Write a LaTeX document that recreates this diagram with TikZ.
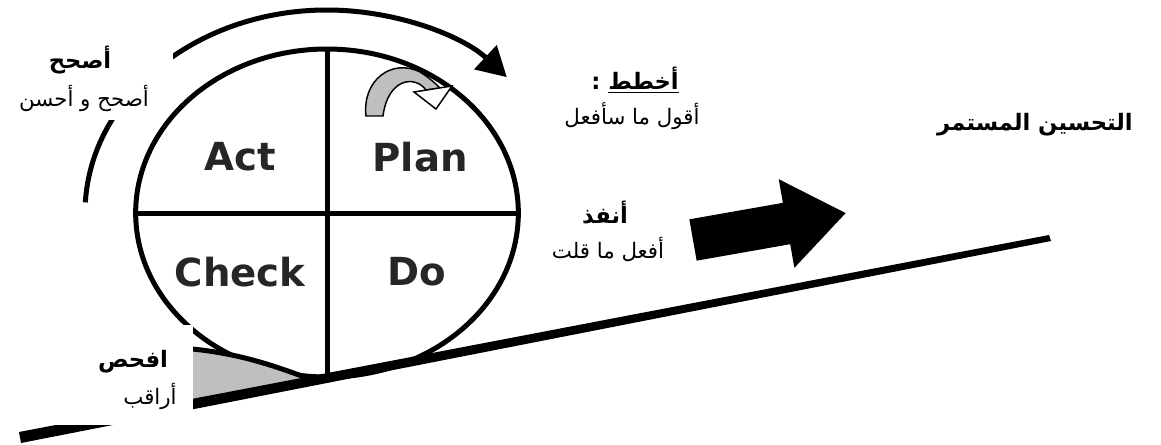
\documentclass[tikz,border=0pt]{standalone}
\usepackage{fontspec}
\setmainfont{DejaVu Sans}
\newfontfamily\arabicfont[Script=Arabic]{DejaVu Sans}
\TeXXeTstate=1
\usetikzlibrary{arrows.meta,shapes.geometric}

\begin{document}
\begin{tikzpicture}[x=0.75pt,y=-0.75pt,ring/.style={draw,ellipse,line width=3.75pt,inner sep=0pt,minimum width=287pt,minimum height=246pt},divider/.style={line width=3.75pt},rolling/.style={line width=3.75pt,-{Triangle[length=22pt,width=24pt]}},phase/.style={font=\fontsize{29}{32}\selectfont\bfseries,text=black!85},stage/.style={font=\arabicfont\fontsize{17}{19}\selectfont\bfseries,inner sep=0pt},hint/.style={font=\arabicfont\fontsize{16}{18}\selectfont,inner sep=0pt},cover/.style={fill=white},block/.style={fill=black},chock/.style={fill=gray!50,draw=black,line width=1.1pt}]
\fill[white] (0,0) rectangle (1161,444); \useasboundingbox (0,0) rectangle (1161,444);
\coordinate (hub) at (327,213);
\draw[rolling] (hub) ++(183:242 and 203) arc[start angle=183,end angle=318,x radius=242,y radius=203];
\fill[cover] (0,0) rectangle (173,120);
\node[ring] (pdca) at (hub) {};
\draw[divider] (pdca.north)--(pdca.south); \draw[divider] (pdca.west)--(pdca.east);
\node[phase] (act) at (240,157) {Act}; \node[phase] (plan) at (420,157) {Plan};
\node[phase] (check) at (240,272) {Check}; \node[phase] (do) at (417,272) {Do};
\filldraw[chock] (366,116) .. controls (362,80) and (392,58) .. (420,72) .. controls (428,77) and (434,82) .. (440,88) -- (426,90) .. controls (415,75) and (388,78) .. (383,116) -- cycle;
\filldraw[chock,fill=white] (414,92) -- (452,86) -- (436,109) -- cycle;
\fill[gray!50] (180,348) .. controls (240,352) and (280,368) .. (318,382) -- (180,410) -- cycle;
\draw[divider] (180,348) .. controls (240,352) and (280,368) .. (318,382);
\fill (19,432) -- (1049,235) -- (1051,241) -- (21,443) -- cycle;
\fill[cover] (0,325) rectangle (193,425);
\node[stage] (fixT) at (80,60) {\beginR أصحح\endR}; \node[hint] (fixS) at (84,98) {\beginR أصحح و أحسن\endR};
\node[stage] (planT) at (635,80) {\beginR\underline{أخطط} :\endR}; \node[hint] (planS) at (632,116) {\beginR أقول ما سأفعل\endR};
\node[stage] (doT) at (605,213) {\beginR أنفذ\endR}; \node[hint] (doS) at (608,249) {\beginR أفعل ما قلت\endR};
\node[stage] (checkT) at (133,362) {\beginR افحص\endR}; \node[hint] (checkS) at (150,396) {\beginR أراقب\endR};
\node[stage] (goal) at (1035,125) {\beginR التحسين المستمر\endR};
\begin{scope}[shift={(693,240)},rotate=10]
\fill[block] (0,-21) -- (95,-21) -- (95,-45) -- (155,0) -- (95,45) -- (95,21) -- (0,21) -- cycle;
\end{scope}
\end{tikzpicture}
\end{document}
